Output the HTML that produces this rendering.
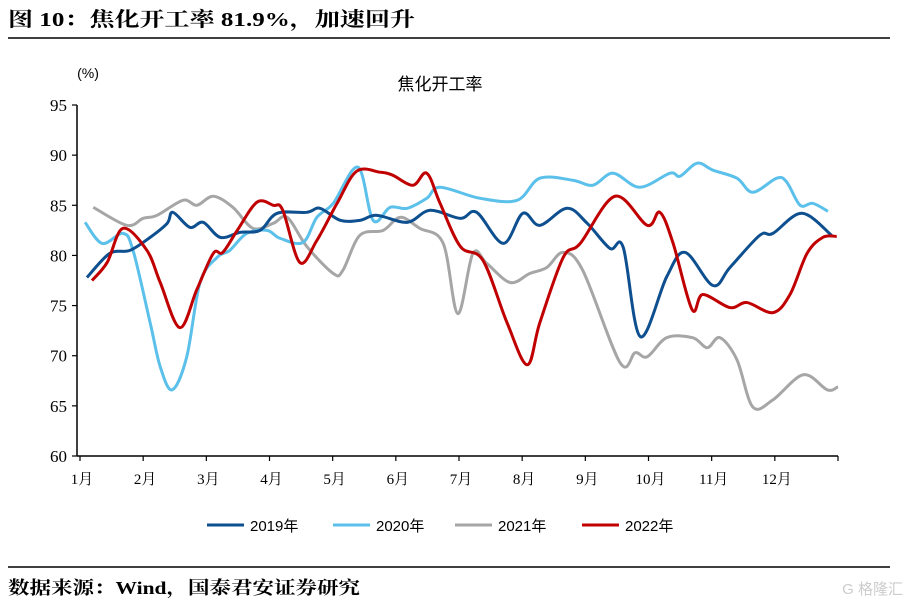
<!DOCTYPE html>
<html><head><meta charset="utf-8"><style>
body{margin:0;background:#fff;width:910px;height:607px;overflow:hidden;font-family:"Liberation Serif","Noto Serif CJK SC",serif}
</style></head><body>
<svg id="chart" width="910" height="607" xmlns="http://www.w3.org/2000/svg">
<text x="8" y="26" font-size="20" font-weight="bold" textLength="407" lengthAdjust="spacingAndGlyphs" font-family="Liberation Serif,Noto Serif CJK SC,serif">图 10：焦化开工率 81.9%，加速回升</text>
<line x1="8" y1="38" x2="890" y2="38" stroke="#000" stroke-width="1.5"/>
<text x="440" y="90" font-size="17" text-anchor="middle" font-family="Liberation Sans,Noto Sans CJK SC,sans-serif">焦化开工率</text>
<text x="88" y="78" font-size="14" text-anchor="middle" font-family="Liberation Sans,Noto Sans CJK SC,sans-serif">(%)</text>
<g id="axes"></g>
<g id="series"></g>
<g id="legend"></g>
<line x1="8" y1="567" x2="890" y2="567" stroke="#000" stroke-width="1.5"/>
<text x="8" y="594" font-size="18" font-weight="bold" textLength="352" lengthAdjust="spacingAndGlyphs" font-family="Liberation Serif,Noto Serif CJK SC,serif">数据来源：Wind，国泰君安证券研究</text>
<text x="903" y="594" font-size="15" fill="#ccc" text-anchor="end" font-family="Liberation Sans,Noto Sans CJK SC,sans-serif">G 格隆汇</text>
</svg>
<script>
const months=["1月","2月","3月","4月","5月","6月","7月","8月","9月","10月","11月","12月"];
const yTicks=[60,65,70,75,80,85,90,95];
const seriesNames=["2019年","2020年","2021年","2022年"];
const m2019=[0.11,0.47,0.79,1.11,1.38,1.47,1.74,1.95,2.22,2.53,2.85,3.12,3.59,3.8,4.12,4.43,4.7,5.18,5.54,6.02,6.28,6.7,7.01,7.28,7.71,8.03,8.39,8.6,8.87,9.29,9.58,10.02,10.29,10.76,10.97,11.43,11.9];
const v2019=[77.8,80.2,80.5,81.8,83.2,84.3,82.8,83.3,81.8,82.3,82.5,84.2,84.3,84.7,83.5,83.5,84,83.3,84.5,83.7,84.3,81.2,84.2,83,84.7,83.2,80.7,80.8,71.9,77.9,80.3,77,78.8,82,82.2,84.2,82];
const m2020=[0.08,0.35,0.68,0.84,1.11,1.27,1.46,1.69,1.9,2.17,2.37,2.64,2.96,3.17,3.53,3.75,4.01,4.4,4.64,4.91,5.18,5.49,5.7,6.33,6.92,7.28,7.8,8.12,8.44,8.86,9.34,9.5,9.77,10.02,10.4,10.65,11.03,11.19,11.4,11.6,11.84];
const v2020=[83.3,81.2,82.2,80.5,73.3,68.9,66.6,69.9,77.3,79.8,80.5,82.2,82.5,81.7,81.3,83.8,85.2,88.8,83.5,84.8,84.7,85.7,86.8,85.7,85.5,87.7,87.5,87,88.2,86.8,88.2,87.9,89.2,88.5,87.7,86.3,87.7,87.3,85,85.2,84.4];
const m2021=[0.21,0.74,1.0,1.22,1.63,1.85,2.11,2.42,2.74,3.06,3.28,3.59,4.01,4.16,4.43,4.8,5.07,5.38,5.75,5.98,6.22,6.44,6.81,7.12,7.39,7.65,7.96,8.55,8.79,8.98,9.29,9.7,9.93,10.13,10.4,10.65,10.97,11.45,11.83,12.0];
const v2021=[84.8,83,83.7,84,85.5,85,85.9,84.8,82.7,83.2,83.8,80.9,78.2,78.5,82,82.5,83.8,82.7,81.2,74.2,80.2,79.2,77.3,78.2,78.8,80.3,78.5,69.3,70.3,69.9,71.8,71.8,70.8,71.8,69.6,64.9,65.6,68.1,66.6,66.9];
const m2022=[0.19,0.43,0.68,1.06,1.27,1.58,1.85,2.11,2.26,2.49,2.8,3.06,3.21,3.48,3.75,4.07,4.38,4.75,4.95,5.27,5.49,5.7,6.02,6.38,6.76,7.08,7.28,7.65,7.92,8.47,8.98,9.18,9.39,9.69,9.86,10.29,10.56,10.97,11.24,11.51,11.76,11.98];
const v2022=[77.5,79.3,82.7,80.5,77.3,72.8,76.6,80.2,80.3,82.5,85.3,85,84.5,79.3,81.5,85.2,88.4,88.3,88,87,88.2,85.2,80.9,79.5,73.3,69.1,73.3,79.8,81.2,85.9,83,84.3,81.2,74.6,76.1,74.8,75.3,74.3,76.1,80.2,81.8,81.9];
const colors=["#0e4f8f","#5bc0ea","#a6a6a6","#c00000"];
const NS="http://www.w3.org/2000/svg";
const X0=80,X1=838,Y0=456,Y1=105;
const xs=m=>X0+m/12*(X1-X0);
const ys=v=>Y0-(v-60)/35*(Y0-Y1);
const axes=document.getElementById('axes');
function mk(tag,attrs,parent){const e=document.createElementNS(NS,tag);for(const k in attrs)e.setAttribute(k,attrs[k]);parent.appendChild(e);return e;}
const ya=mk('line',{x1:X0-3,y1:Y1,x2:X0-3,y2:Y0,stroke:'#000','stroke-width':1.5},axes);


const xa=mk('line',{x1:X0-3,y1:Y0,x2:X1,y2:Y0,stroke:'#000','stroke-width':1.5},axes);


yTicks.forEach(t=>{
  const l=mk('line',{x1:X0-8,y1:ys(t),x2:X0-3,y2:ys(t),stroke:'#000','stroke-width':1.2},axes);
  
  
  const tx=mk('text',{x:X0-13,y:ys(t)+6,'font-size':17,'text-anchor':'end','font-family':'Liberation Serif,serif'},axes);
  tx.textContent=t;
  
  
});
for(let i=0;i<=12;i++){
  const l=mk('line',{x1:xs(i),y1:Y0,x2:xs(i),y2:Y0+5,stroke:'#000','stroke-width':1.2},axes);
  
  
}
months.forEach((m,i)=>{
  const tx=mk('text',{x:xs(i)+2,y:Y0+28,'font-size':15,'text-anchor':'middle','font-family':'Liberation Serif,Noto Serif CJK SC,serif'},axes);
  tx.textContent=m;
  
  
});
function smooth(pts){
  let d=`M${pts[0][0]},${pts[0][1]}`;
  for(let i=0;i<pts.length-1;i++){
    const p0=pts[i-1]||pts[i],p1=pts[i],p2=pts[i+1],p3=pts[i+2]||p2;
    const c1=[p1[0]+(p2[0]-p0[0])/6,p1[1]+(p2[1]-p0[1])/6];
    const c2=[p2[0]-(p3[0]-p1[0])/6,p2[1]-(p3[1]-p1[1])/6];
    d+=` C${c1[0]},${c1[1]} ${c2[0]},${c2[1]} ${p2[0]},${p2[1]}`;
  }
  return d;
}
const data=[[m2019,v2019],[m2020,v2020],[m2021,v2021],[m2022,v2022]];
const sg=document.getElementById('series');
const order=[2,1,0,3];
order.forEach(k=>{
  const pts=data[k][0].map((m,i)=>[xs(m),ys(data[k][1][i])]);
  const p=mk('path',{d:smooth(pts),fill:'none',stroke:colors[k],'stroke-width':3,'stroke-linejoin':'round'},sg);
  
  
});
const lg=document.getElementById('legend');
const lx=[207,333,455,582];
seriesNames.forEach((n,k)=>{
  const g=mk('g',{},lg);
  
  
  mk('line',{x1:lx[k],y1:525,x2:lx[k]+37,y2:525,stroke:colors[k],'stroke-width':3},g);
  const t=mk('text',{x:lx[k]+43,y:531,'font-size':15,'font-family':'Liberation Sans,Noto Sans CJK SC,sans-serif'},g);
  t.textContent=n;
});
</script>
</body></html>
